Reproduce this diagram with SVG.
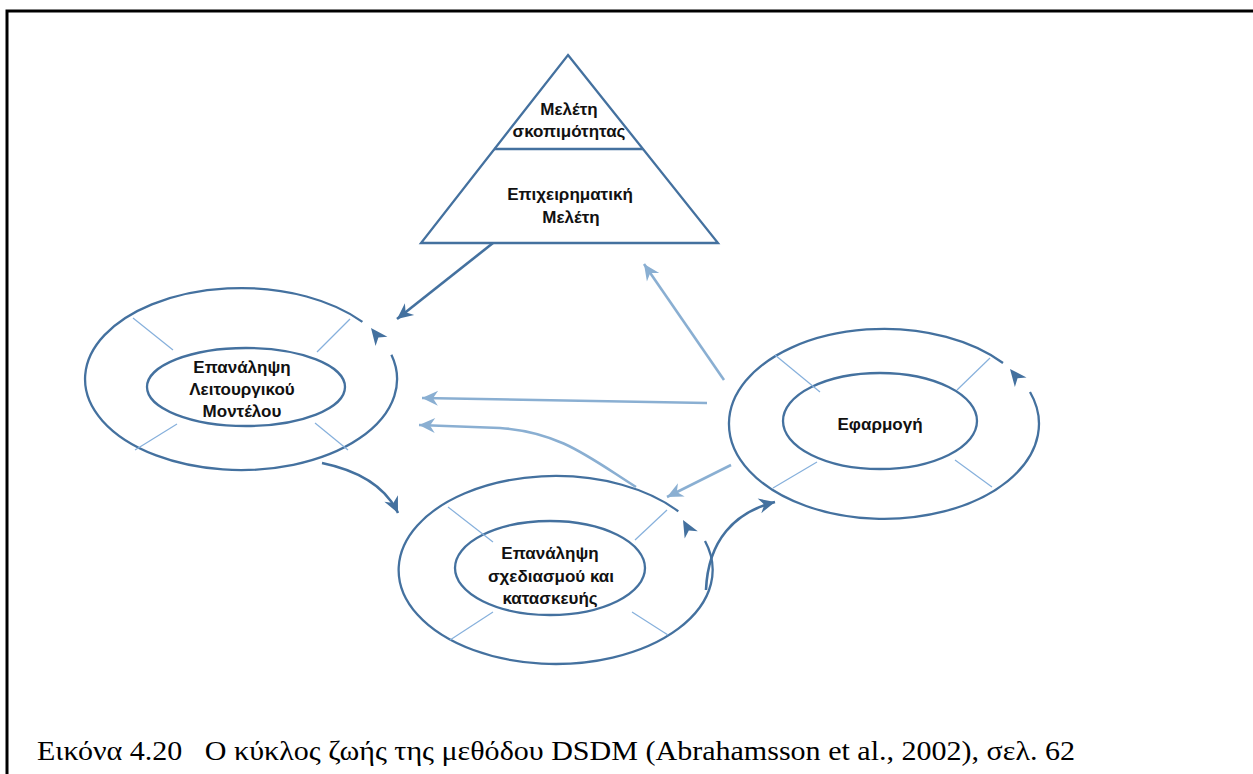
<svg xmlns="http://www.w3.org/2000/svg" xmlns:xlink="http://www.w3.org/1999/xlink" width="1253" height="774" viewBox="0 0 1253 774">
<style>
.ring{fill:none;stroke:#44719f;stroke-width:2.3}
.spoke{fill:none;stroke:#86b0dc;stroke-width:1.2}
.dk{fill:none;stroke:#44719f;stroke-width:2.6}
.lt{fill:none;stroke:#8aafd2;stroke-width:2.6}
.lbl{font-family:"Liberation Sans",Arial,sans-serif;font-weight:bold;font-size:17px;fill:#111;text-anchor:middle}
.cap{font-family:"Liberation Serif","Times New Roman",serif;font-size:27px;fill:#000}
.ahd{fill:#44719f}
</style>
<defs>
<path id="ah" d="M0,0 L-17,-7.5 L-12,0 L-17,7.5 Z"/>
<marker id="mdk" viewBox="-18 -9 19 18" refX="0" refY="0" markerWidth="19" markerHeight="18" markerUnits="userSpaceOnUse" orient="auto">
<path d="M0,0 L-16,-7.5 L-11,0 L-16,7.5 Z" fill="#44719f"/>
</marker>
<marker id="mlt" viewBox="-18 -9 19 18" refX="0" refY="0" markerWidth="19" markerHeight="18" markerUnits="userSpaceOnUse" orient="auto">
<path d="M0,0 L-16,-7.5 L-11,0 L-16,7.5 Z" fill="#8aafd2"/>
</marker>
</defs>
<rect width="1253" height="774" fill="#fff"/>
<path d="M7,774 L7,11 L1253,11" fill="none" stroke="#000" stroke-width="3"/>

<g id="feasibility">
<path d="M568,55 L718,243 L421,243 Z" class="ring"/>
<line x1="494" y1="149" x2="643" y2="149" class="ring"/>
<text class="lbl" x="569" y="115">Μελέτη</text>
<text class="lbl" x="569" y="137">σκοπιμότητας</text>
<text class="lbl" x="570" y="200">Επιχειρηματική</text>
<text class="lbl" x="571" y="223">Μελέτη</text>
</g>

<g id="functional-model">
<path d="M362.4,321.9 A156,91 0 1 0 391.4,354.8" class="ring"/>
<ellipse cx="246" cy="387" rx="99" ry="39" class="ring"/>
<line x1="133" y1="318" x2="173" y2="350" class="spoke"/>
<line x1="317" y1="352" x2="350" y2="319" class="spoke"/>
<line x1="135" y1="450" x2="177" y2="424" class="spoke"/>
<line x1="315" y1="423" x2="348" y2="450" class="spoke"/>
<use xlink:href="#ah" class="ahd" transform="translate(371,328) rotate(-128)"/>
<text class="lbl" x="242" y="373">Επανάληψη</text>
<text class="lbl" x="242" y="395">Λειτουργικού</text>
<text class="lbl" x="242" y="417">Μοντέλου</text>
</g>

<g id="design-build">
<path d="M678.3,511.3 A157,94 0 1 0 705,541" class="ring"/>
<ellipse cx="550" cy="568" rx="95" ry="47" class="ring"/>
<line x1="448" y1="507" x2="493" y2="542" class="spoke"/>
<line x1="635" y1="540" x2="667" y2="510" class="spoke"/>
<line x1="450" y1="640" x2="493" y2="612" class="spoke"/>
<line x1="632" y1="612" x2="668" y2="635" class="spoke"/>
<use xlink:href="#ah" class="ahd" transform="translate(683,520) rotate(-119)"/>
<text class="lbl" x="550" y="559">Επανάληψη</text>
<text class="lbl" x="551" y="582">σχεδιασμού και</text>
<text class="lbl" x="550" y="604">κατασκευής</text>
</g>

<g id="implementation">
<path d="M1003,363 A155,95 0 1 0 1030,392" class="ring"/>
<ellipse cx="880" cy="421" rx="97" ry="48" class="ring"/>
<line x1="775" y1="355" x2="820" y2="392" class="spoke"/>
<line x1="957" y1="390" x2="990" y2="358" class="spoke"/>
<line x1="773" y1="488" x2="817" y2="462" class="spoke"/>
<line x1="955" y1="460" x2="992" y2="487" class="spoke"/>
<use xlink:href="#ah" class="ahd" transform="translate(1010,369) rotate(-129)"/>
<text class="lbl" x="880" y="430">Εφαρμογή</text>
</g>

<g id="connectors">
<path d="M493,243 L397,319" class="dk" marker-end="url(#mdk)"/>
<path d="M322,463 Q380,475 398,513" class="dk" marker-end="url(#mdk)"/>
<path d="M706,590 C708,540 735,512 775,502" class="dk" marker-end="url(#mdk)"/>
<path d="M724,380 L644,264" class="lt" marker-end="url(#mlt)"/>
<path d="M707,403 L422,398" class="lt" marker-end="url(#mlt)"/>
<path d="M636,487 C590,458 560,432 500,428 L419,425" class="lt" marker-end="url(#mlt)"/>
<path d="M731,465 L667,497" class="lt" marker-end="url(#mlt)"/>
</g>

<text class="cap" x="37" y="760" textLength="1038" lengthAdjust="spacingAndGlyphs">Εικόνα 4.20&#160;&#160;&#160;Ο κύκλος ζωής της μεθόδου DSDM (Abrahamsson et al., 2002), σελ. 62</text>
</svg>
